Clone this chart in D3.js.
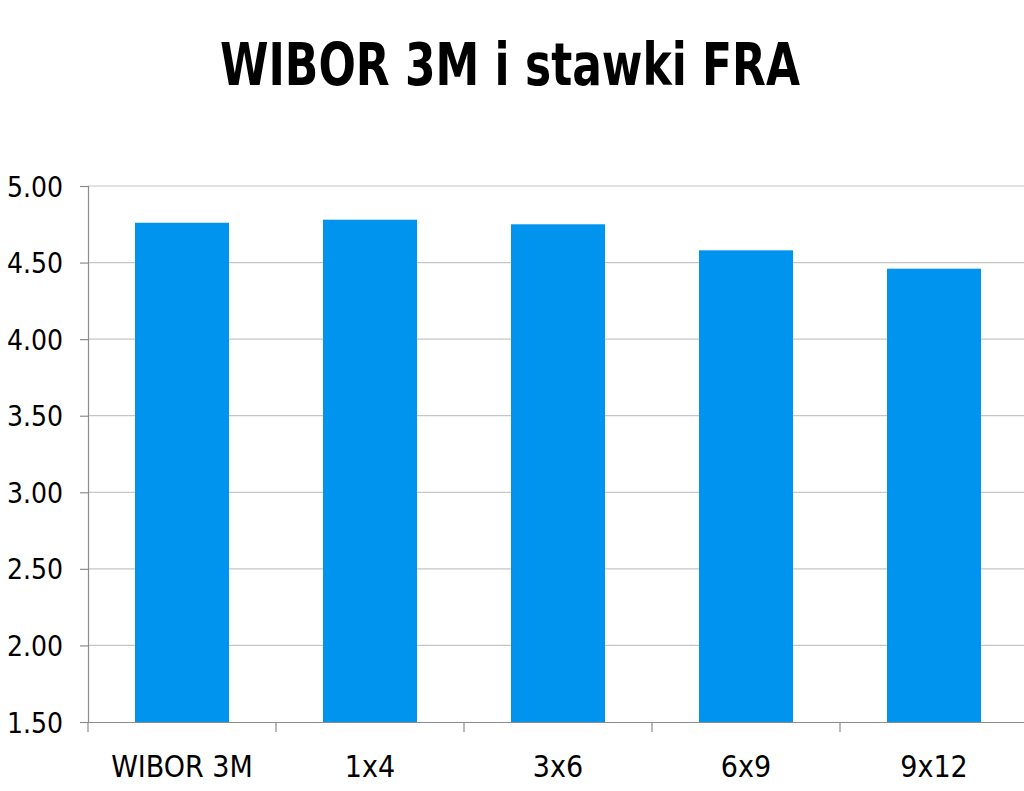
<!DOCTYPE html>
<html><head><meta charset="utf-8">
<script src="https://cdn.jsdelivr.net/npm/d3@7"></script>
<style>body{margin:0;background:#fff}svg{display:block}</style>
</head><body>
<svg id="c" width="1024" height="791"></svg>
<script>
const categories = ["WIBOR 3M", "1x4", "3x6", "6x9", "9x12"];
const values = [4.76, 4.78, 4.75, 4.58, 4.46];
const yTicks = [1.5, 2.0, 2.5, 3.0, 3.5, 4.0, 4.5, 5.0];
const title = "WIBOR 3M i stawki FRA";

(function () {
const svg = d3.select("#c");
const pl = 88, pr = 1028, pt = 186, pb = 722;
const x = d3.scaleBand().domain(categories).range([pl, pr]).paddingInner(0.5).paddingOuter(0.25);
const xb = d3.scaleBand().domain(categories).range([pl, pr]);
const y = d3.scaleLinear().domain([1.5, 5]).range([pb, pt]);
const font = "'DejaVu Sans Condensed', 'DejaVu Sans', sans-serif";

svg.append("text").attr("x", 220).attr("y", 85)
  .attr("font-family", font).attr("font-weight", "bold").attr("font-size", 58)
  .attr("textLength", 580).attr("lengthAdjust", "spacingAndGlyphs")
  .attr("fill", "#000").text(title);

svg.append("g").selectAll("line").data(yTicks.slice(1)).join("line")
  .attr("x1", pl).attr("x2", pr).attr("y1", d => y(d)).attr("y2", d => y(d))
  .attr("stroke", "#c6c6c6").attr("stroke-width", 1.2);

svg.append("g").selectAll("rect").data(values).join("rect")
  .attr("x", (d, i) => x(categories[i])).attr("width", x.bandwidth())
  .attr("y", d => y(d)).attr("height", d => y(1.5) - y(d))
  .attr("fill", "#0094EE");

const ya = svg.append("g").attr("transform", `translate(${pl},0)`)
  .call(d3.axisLeft(y).tickValues(yTicks).tickFormat(d3.format(".2f")).tickSize(8).tickPadding(17));
ya.select(".domain").attr("stroke", "#8c8c8c").attr("stroke-width", 1.2);
ya.selectAll(".tick line").attr("stroke", "#8c8c8c").attr("stroke-width", 1.2);
ya.selectAll("text").attr("font-family", font).attr("font-size", 28).attr("fill", "#000").attr("dy", "0.36em");

const xa = svg.append("g").attr("transform", `translate(0,${pb})`)
  .call(d3.axisBottom(xb).tickSize(0).tickPadding(55));
xa.select(".domain").attr("stroke", "#8c8c8c").attr("stroke-width", 1.2);
xa.selectAll("text").attr("font-family", font).attr("font-size", 30).attr("fill", "#000").attr("dy", "0");
const bounds = categories.map(c => xb(c)).concat([pr]);
svg.append("g").selectAll("line").data(bounds).join("line")
  .attr("x1", d => d).attr("x2", d => d).attr("y1", pb).attr("y2", pb + 10)
  .attr("stroke", "#8c8c8c").attr("stroke-width", 1.2);
})();
</script>
</body></html>
